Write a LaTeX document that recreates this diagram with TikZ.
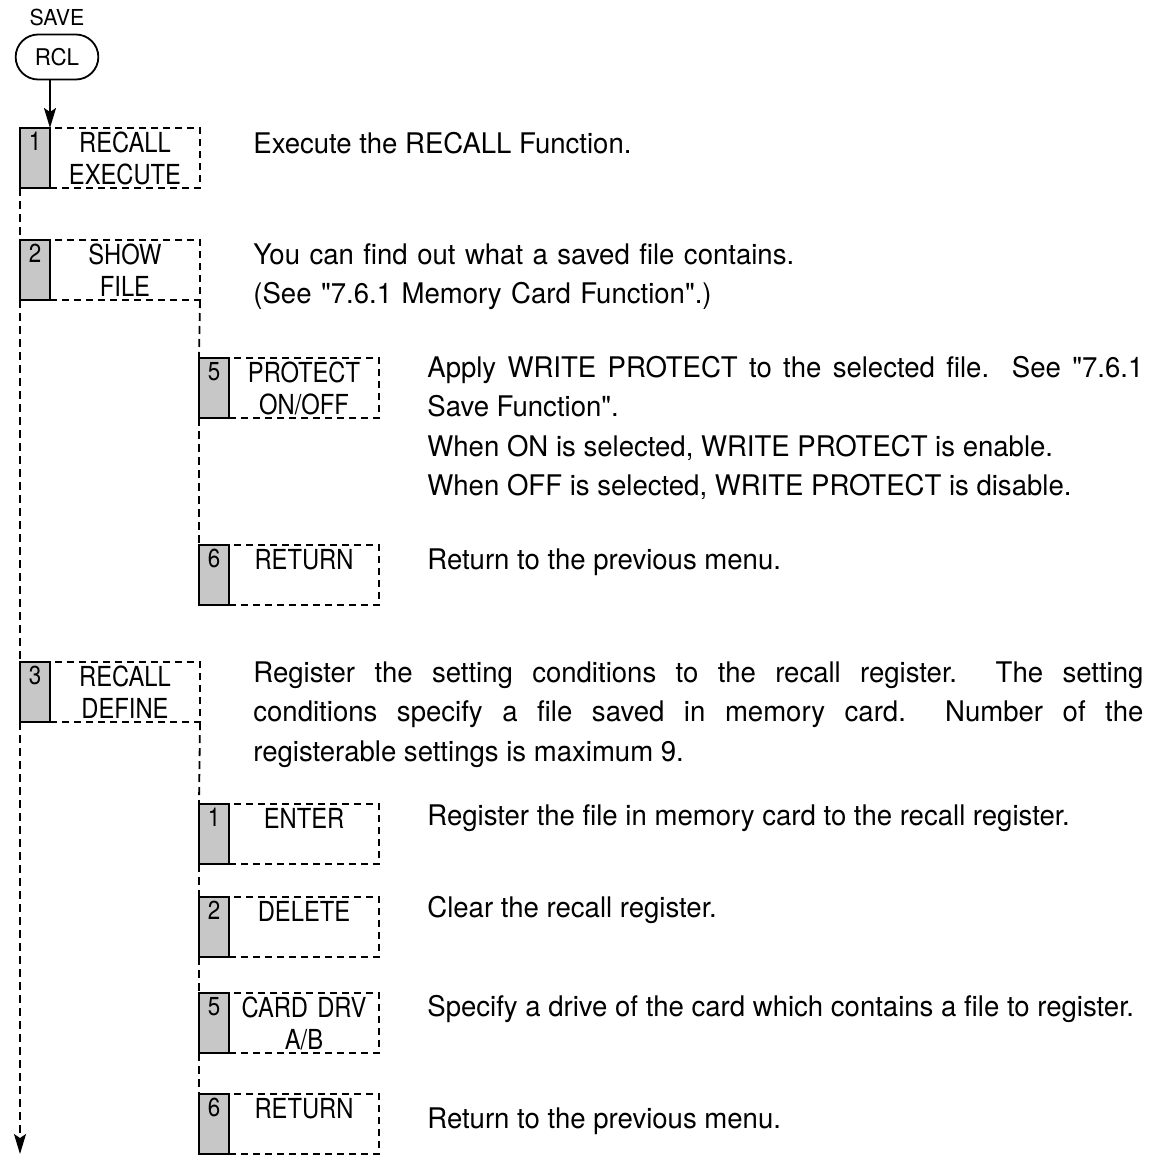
\documentclass[tikz,border=0pt]{standalone}
\usepackage{fontspec}
\setmainfont{TeX Gyre Heros}[FakeStretch=0.97, Ligatures=TeXOff]
\newfontfamily\keyfamily{TeX Gyre Heros}[FakeStretch=0.86, Ligatures=TeXOff]
\usetikzlibrary{positioning,arrows.meta,shapes.misc}

\tikzset{
  menubox/.style={draw, dash pattern=on 3.5pt off 2.5pt, line width=0.9pt,
    text width=75pt, minimum height=30pt, inner sep=0pt, outer sep=0pt,
    align=center, font=\keyfamily\fontsize{13.8pt}{16pt}\selectfont},
  keycell/.style={draw, solid, line width=0.9pt, fill=black!22,
    minimum width=15pt, inner xsep=0pt, inner ysep=0pt, outer sep=0pt,
    text height=11pt, text depth=19pt,
    font=\keyfamily\fontsize{13pt}{14pt}\selectfont},
  desc/.style={anchor=base west, inner sep=0pt,
    font=\fontsize{14.2pt}{19.75pt}\selectfont},
  link/.style={dash pattern=on 4pt off 2.5pt, line width=0.9pt},
  tip/.style={-{Stealth[length=10pt, width=6pt, inset=2pt]}},
}

\begin{document}
\begin{tikzpicture}[x=0.5pt, y=-0.5pt]
  \useasboundingbox (0,0) rectangle (1165,1156);

  % Panel key
  \node[font=\fontsize{11pt}{12pt}\selectfont] (save) at (57,17) {SAVE};
  \node[rounded rectangle, draw, line width=0.9pt, minimum width=48pt,
    minimum height=22.5pt, font=\fontsize{11.5pt}{13pt}\selectfont] (rcl) at (57,57) {RCL};

  % First level soft keys
  \node[menubox] (rexec) at (125,158) {RECALL\\EXECUTE};
  \node[keycell, left=0pt of rexec] (rexecK) {1};
  \node[menubox] (show) at (125,270) {SHOW\\FILE};
  \node[keycell, left=0pt of show] (showK) {2};
  \node[menubox] (rdef) at (125,692) {RECALL\\DEFINE};
  \node[keycell, left=0pt of rdef] (rdefK) {3};

  % Keys under SHOW FILE
  \node[menubox] (prot) at (304,388) {PROTECT\\ON/OFF};
  \node[keycell, left=0pt of prot] (protK) {5};
  \node[menubox] (retA) at (304,575) {RETURN\\\mbox{}};
  \node[keycell, left=0pt of retA] (retAK) {6};

  % Keys under RECALL DEFINE
  \node[menubox] (enter) at (304,834) {ENTER\\\mbox{}};
  \node[keycell, left=0pt of enter] (enterK) {1};
  \node[menubox] (del) at (304,927) {DELETE\\\mbox{}};
  \node[keycell, left=0pt of del] (delK) {2};
  \node[menubox] (card) at (304,1023) {CARD DRV\\A/B};
  \node[keycell, left=0pt of card] (cardK) {5};
  \node[menubox] (retB) at (304,1124) {RETURN\\\mbox{}};
  \node[keycell, left=0pt of retB] (retBK) {6};

  % Connectors
  \draw[tip, line width=0.9pt] (rcl.south -| rexecK.north east) -- (rexecK.north east);
  \coordinate (mainend) at (20,1154);
  \draw[link] (rexecK.south west) -- (showK.north west);
  \draw[link] (showK.south west) -- (rdefK.north west);
  \draw[link, tip] (rdefK.south west) -- (mainend);
  \draw[link] (show.south east) -- (protK.north west);
  \draw[link] (protK.south west) -- (retAK.north west);
  \draw[link] (rdef.south east) -- (enterK.north west);
  \draw[link] (enterK.south west) -- (delK.north west);
  \draw[link] (delK.south west) -- (cardK.north west);
  \draw[link] (cardK.south west) -- (retBK.north west);

  % Descriptions
  \node[desc] (rexecD) at (253,153) {Execute the RECALL Function.};
  \node[desc, text width=445pt, align=left] (showD) at (253,264)
    {You can find out what a saved file contains.\\(See "7.6.1 Memory Card Function".)};
  \node[desc, text width=358pt, align=justify] (protD) at (427,377)
    {Apply WRITE PROTECT to the selected file.\ \ See "7.6.1\linebreak
     Save Function".\\
     When ON is selected, WRITE PROTECT is enable.\\
     When OFF is selected, WRITE PROTECT is disable.};
  \node[desc] (retAD) at (427,569) {Return to the previous menu.};
  \node[desc, text width=445pt, align=justify] (rdefD) at (253,682)
    {Register the setting conditions to the recall register.\ \ The setting\linebreak
     conditions specify a file saved in memory card.\ \ Number of the\linebreak
     registerable settings is maximum 9.};
  \node[desc] (enterD) at (427,825) {Register the file in memory card to the recall register.};
  \node[desc] (delD) at (427,917) {Clear the recall register.};
  \node[desc] (cardD) at (427,1016) {Specify a drive of the card which contains a file to register.};
  \node[desc] (retBD) at (427,1128) {Return to the previous menu.};
\end{tikzpicture}
\end{document}
